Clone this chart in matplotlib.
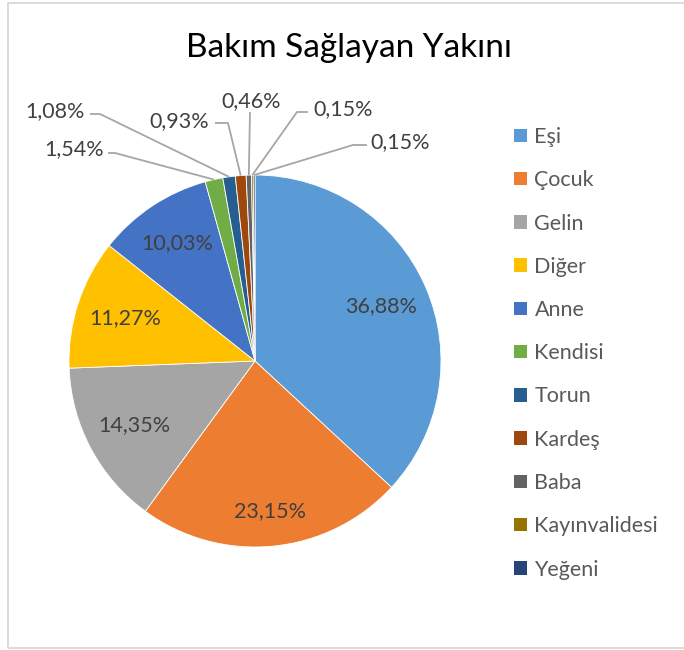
import numpy as np
import matplotlib
matplotlib.use('Agg')
from matplotlib import pyplot as plt
from matplotlib.patches import Patch, Rectangle

plt.rcParams['font.family'] = ['Lato', 'DejaVu Sans']

# data
names = ['Eşi', 'Çocuk', 'Gelin', 'Diğer', 'Anne', 'Kendisi', 'Torun',
         'Kardeş', 'Baba', 'Kayınvalidesi', 'Yeğeni']
shares = [36.88, 23.15, 14.35, 11.27, 10.03, 1.54, 1.08, 0.93, 0.46, 0.15, 0.15]
colors = ['#5B9BD5', '#ED7D31', '#A5A5A5', '#FFC000', '#4472C4', '#70AD47',
          '#255E91', '#9E480E', '#636363', '#997300', '#264478']
title = 'Bakım Sağlayan Yakını'

W, H = 684, 650
cx, cy, R = 255, H - 361, 186

# radial position of the labels drawn inside the big slices
inside_dist = [0.74, 0.81, 0.735, 0.735, 0.76]
# outside labels: text anchor, alignment, leader start, leader elbow (pixels, y from top)
outside = [
    ((104, 155), 'right', (108, 153), (115, 153)),
    ((85, 117), 'right', (90, 114), (100, 114)),
    ((209, 127), 'right', (215, 123), (228, 123)),
    ((251, 107), 'center', (250, 112), (250, 112)),
    ((313, 115), 'left', (308, 112), (297, 112)),
    ((370, 148), 'left', (367, 145), (353, 145)),
]

def fmt(v):
    return ('%.2f%%' % v).replace('.', ',')

fig = plt.figure(figsize=(W / 100, H / 100), dpi=100)
ax = fig.add_axes([0, 0, 1, 1])

wedges, _ = ax.pie(shares, colors=colors, startangle=90, counterclock=False,
                   center=(cx, cy), radius=R,
                   wedgeprops=dict(edgecolor='white', linewidth=0.6))

lab_color = '#404040'
line_color = '#A6A6A6'
fs = 15.5
for i, w in enumerate(wedges):
    mid = np.radians((w.theta1 + w.theta2) / 2)
    if i < len(inside_dist):
        d = inside_dist[i] * w.r
        ax.text(w.center[0] + d * np.cos(mid), w.center[1] + d * np.sin(mid),
                fmt(shares[i]), ha='center', va='center', fontsize=fs, color=lab_color)
    else:
        (tx, ty), ha, (sx, sy), (ex, ey) = outside[i - len(inside_dist)]
        ax.text(tx, H - ty, fmt(shares[i]), ha=ha, va='baseline', fontsize=fs, color=lab_color)
        px = w.center[0] + w.r * np.cos(mid)
        py = w.center[1] + w.r * np.sin(mid)
        ax.plot([sx, ex, px], [H - sy, H - ey, py], color=line_color, lw=1.3,
                solid_capstyle='butt')

ax.set_xlim(0, W)
ax.set_ylim(0, H)
ax.set_aspect('equal')
ax.axis('off')

fig.text(349 / W, 1 - 57 / H, title, ha='center', va='baseline', fontsize=24, color='black')

handles = [Patch(facecolor=c, edgecolor='none', label=n) for c, n in zip(colors, names)]
fig.legend(handles=handles, loc='upper left', bbox_to_anchor=(514 / W, 1 - 127 / H),
           frameon=False, fontsize=fs, labelcolor='#595959', handlelength=0.6,
           handleheight=0.6, handletextpad=0.35, labelspacing=1.08,
           borderpad=0, borderaxespad=0)

# light chart-area border
fig.add_artist(Rectangle((7.5 / W, 2 / H), 1.0, 1 - 4.5 / H, transform=fig.transFigure,
                         fill=False, edgecolor='#D9D9D9', lw=1.3))

fig.savefig('out.png', dpi=100)
